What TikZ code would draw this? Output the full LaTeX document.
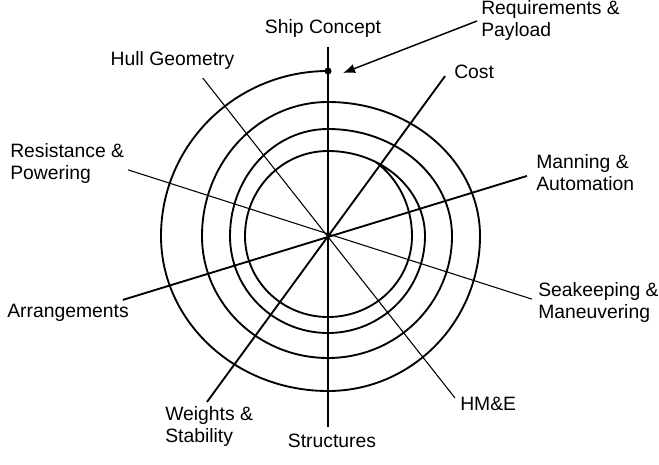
\documentclass[tikz,border=0pt]{standalone}
\usepackage{fontspec}
\setmainfont{Liberation Sans}
\usetikzlibrary{arrows.meta}

\begin{document}
\begin{tikzpicture}[x=0.75pt, y=0.75pt,
  lbl/.style={inner sep=0pt, align=left, font=\fontsize{14.5}{16.5}\selectfont},
  spoke/.style={line width=0.8pt},
  heavy/.style={line width=1.4pt},
  spiral/.style={line width=1.4pt, line join=round}]
\useasboundingbox (-328,-228) rectangle (331,236);
\coordinate (ship) at (90:189);
\coordinate (struct) at (270:191);
\coordinate (hull) at (128.4:201.5);
\coordinate (hme) at (-51.9:205.8);
\coordinate (cost) at (53.8:198.2);
\coordinate (weights) at (233.9:205.4);
\coordinate (manning) at (16.8:207.8);
\coordinate (arrange) at (197.3:214.8);
\coordinate (resist) at (161.7:210.6);
\coordinate (seakeep) at (-17.2:213.5);
\coordinate (start) at (90:165);
\coordinate (tip) at (15,163);
\draw[spoke, line width=1.1pt] (ship) -- (struct);
\draw[spoke] (hull) -- (hme);
\draw[heavy] (cost) -- (weights);
\draw[heavy] (manning) -- (arrange);
\draw[spoke] (resist) -- (seakeep);
\draw[spiral] (start)
  \foreach \sa/\rx/\ry in {90/167/165, 180/167/155, 270/152/155, 360/152/134,
    450/126/134, 540/126/122, 630/124/122, 720/124/107, 810/98/107, 900/98/97,
    990/97/97, 1080/97/85, 1170/83/85, 1260/83/81, 1350/84/81}
  { arc[start angle=\sa, delta angle=90, x radius=\rx, y radius=\ry] }
  arc[start angle=1440, delta angle=55, x radius=84, y radius=90];
\fill (start) circle (3.5);
\node[lbl] (shipL) at (-5,207) {Ship Concept};
\node[lbl, anchor=west] (req) at (153,215) {Requirements \&\\Payload};
\node[lbl, anchor=west] (costL) at (126,164) {Cost};
\node[lbl] (hullL) at (-155.5,175) {Hull Geometry};
\node[lbl, anchor=west] (resistL) at (-318,72) {Resistance \&\\Powering};
\node[lbl, anchor=west] (arrangeL) at (-321,-77) {Arrangements};
\node[lbl, anchor=west] (weightsL) at (-163,-190) {Weights \&\\Stability};
\node[lbl] (structL) at (4,-205) {Structures};
\node[lbl, anchor=west] (hmeL) at (132,-168) {HM\&E};
\node[lbl, anchor=west] (seakeepL) at (210,-66) {Seakeeping \&\\Maneuvering};
\node[lbl, anchor=west] (manningL) at (208,63) {Manning \&\\Automation};
\draw[line width=1.1pt, -{Latex[length=9pt, width=7pt]}] ([xshift=-3pt]req.west) -- (tip);
\end{tikzpicture}
\end{document}
